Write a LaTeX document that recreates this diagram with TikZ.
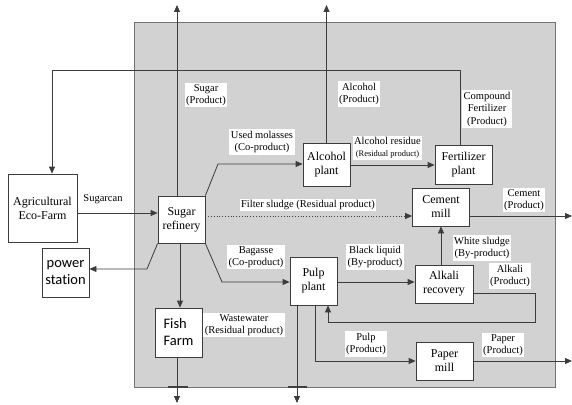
\documentclass[tikz,border=0pt]{standalone}
\usepackage{fontspec}
\setmainfont{Liberation Serif}
\newfontfamily\calfont[Ligatures=NoCommon]{Carlito}
\usetikzlibrary{arrows.meta,positioning}

\definecolor{panelgray}{RGB}{210,210,210}
\definecolor{linegray}{RGB}{60,60,60}

\begin{document}
\begin{tikzpicture}[x=1pt, y=-1pt, >={Triangle[length=7pt,width=6pt]},
  line width=0.8pt, draw=linegray,
  box/.style={rectangle, draw=linegray, fill=white, align=center, inner sep=0,
    font=\fontsize{12}{14}\selectfont},
  calbox/.style={box, font=\calfont\fontsize{14.5}{17}\selectfont},
  lbl/.style={fill=white, inner sep=1.5pt, align=center, font=\fontsize{10.5}{12.5}\selectfont}]
  \useasboundingbox (0,0) rectangle (572,404);

  % shaded panel
  \filldraw[fill=panelgray, draw=black!55] (134,22) rectangle (555,387);

  % blocks
  \node[box, minimum width=69pt, minimum height=68pt] (farm) at (42.5,208) {Agricultural\\Eco-Farm};
  \node[box, minimum width=47pt, minimum height=47pt] (refinery) at (181.5,219.5) {Sugar\\refinery};
  \node[calbox, minimum width=47pt, minimum height=49pt] (power) at (65.5,272.5) {power\\station};
  \node[calbox, minimum width=47pt, minimum height=49pt, align=left] (fish) at (178.5,332.5) {Fish\\Farm};
  \node[box, minimum width=47pt, minimum height=43pt] (alcohol) at (326.5,165) {Alcohol\\plant};
  \node[box, minimum width=57pt, minimum height=39pt] (fert) at (463.5,165) {Fertilizer\\plant};
  \node[box, minimum width=57pt, minimum height=38pt] (cement) at (441,207) {Cement\\mill};
  \node[box, minimum width=47pt, minimum height=48pt] (pulp) at (313.5,281) {Pulp\\plant};
  \node[box, minimum width=58pt, minimum height=38pt] (alkali) at (444,284) {Alkali\\recovery};
  \node[box, minimum width=57pt, minimum height=38pt] (paper) at (444.5,361) {Paper\\mill};

  % free ends
  \coordinate (sugarout) at (177,5);
  \coordinate (fb) at (52,70);
  \coordinate (pw) at (147,269);
  \coordinate (bend1) at (218,164);
  \coordinate (bend2) at (222,282);
  \coordinate (loop) at (535,322);
  \coordinate (cemout) at (572,216);
  \coordinate (paperout) at (572,361);
  \coordinate (fishout) at (177,403);
  \coordinate (pulpout) at (297,403);

  % flows
  \draw[->] (refinery.north -| sugarout) -- (sugarout);
  \draw[->] (alcohol.north) -- (alcohol.north |- sugarout);
  \draw[->] ([xshift=-3pt]fert.north) |- (fb) -- (fb |- farm.north);
  \draw[->] ([yshift=-5pt]farm.east) -- ([yshift=-5pt]farm.east -| refinery.west);
  \draw[->] (refinery.south west) -- (pw) -- (pw -| power.east);
  \draw[->] ([xshift=-1.5pt]refinery.south) -- ([xshift=1.5pt]fish.north);
  \draw[->] (fishout |- fish.south) -- (fishout);
  \draw[->] (refinery.north east) -- (bend1) -- (bend1 -| alcohol.west);
  \draw[->] (alcohol.east) -- (fert.west);
  \draw[->, dotted] ([yshift=3.5pt]refinery.east) -- ([yshift=3.5pt]refinery.east -| cement.west);
  \draw[->] (cement.east |- cemout) -- (cemout);
  \draw[->] (refinery.south east) -- (bend2) -- (bend2 -| pulp.west);
  \draw[->] (pulp.east |- bend2) -- (alkali.west |- bend2);
  \draw[->] (cement.south |- alkali.north) -- (cement.south);
  \draw[->] ([yshift=-9pt]alkali.east) -| (loop) -| ([xshift=14.5pt]pulp.south);
  \draw[->] ([xshift=1.5pt]pulp.south) |- (paper.west);
  \draw[->] (paper.east) -- (paperout);
  \draw[->] (pulpout |- pulp.south) -- (pulpout);

  % ticks on the panel edge
  \draw[line width=1.4pt, draw=black!75] (168,387) -- (188,387);
  \draw[line width=1.4pt, draw=black!75] (288,387) -- (307,387);

  % labels
  \node[font=\fontsize{10.5}{12.5}\selectfont] (canelbl) at (103,199) {Sugarcan};
  \node[lbl] (sugarlbl) at (206,95) {Sugar\\(Product)};
  \node[lbl] (alclbl) at (359,94) {Alcohol\\(Product)};
  \node[lbl] (complbl) at (487,109) {Compound\\Fertilizer\\(Product)};
  \node[lbl] (molasslbl) at (262,142) {Used molasses\\(Co-product)};
  \node[lbl] (residlbl) at (387.5,148) {Alcohol residue\\{\fontsize{8.5}{10}\selectfont(Residual product)}};
  \node[lbl] (filterlbl) at (308,205) {Filter sludge (Residual product)};
  \node[lbl] (cementlbl) at (524,200) {Cement\\(Product)};
  \node[lbl] (bagasselbl) at (256,257) {Bagasse\\(Co-product)};
  \node[lbl] (blacklbl) at (375,257) {Black liquid\\(By-product)};
  \node[lbl] (whitelbl) at (482,248) {White sludge\\(By-product)};
  \node[lbl] (alkalilbl) at (510,276) {Alkali\\(Product)};
  \node[lbl] (wastelbl) at (244,325) {Wastewater\\(Residual product)};
  \node[lbl] (pulplbl) at (366,344) {Pulp\\(Product)};
  \node[lbl] (paperlbl) at (503,345) {Paper\\(Product)};
\end{tikzpicture}
\end{document}
